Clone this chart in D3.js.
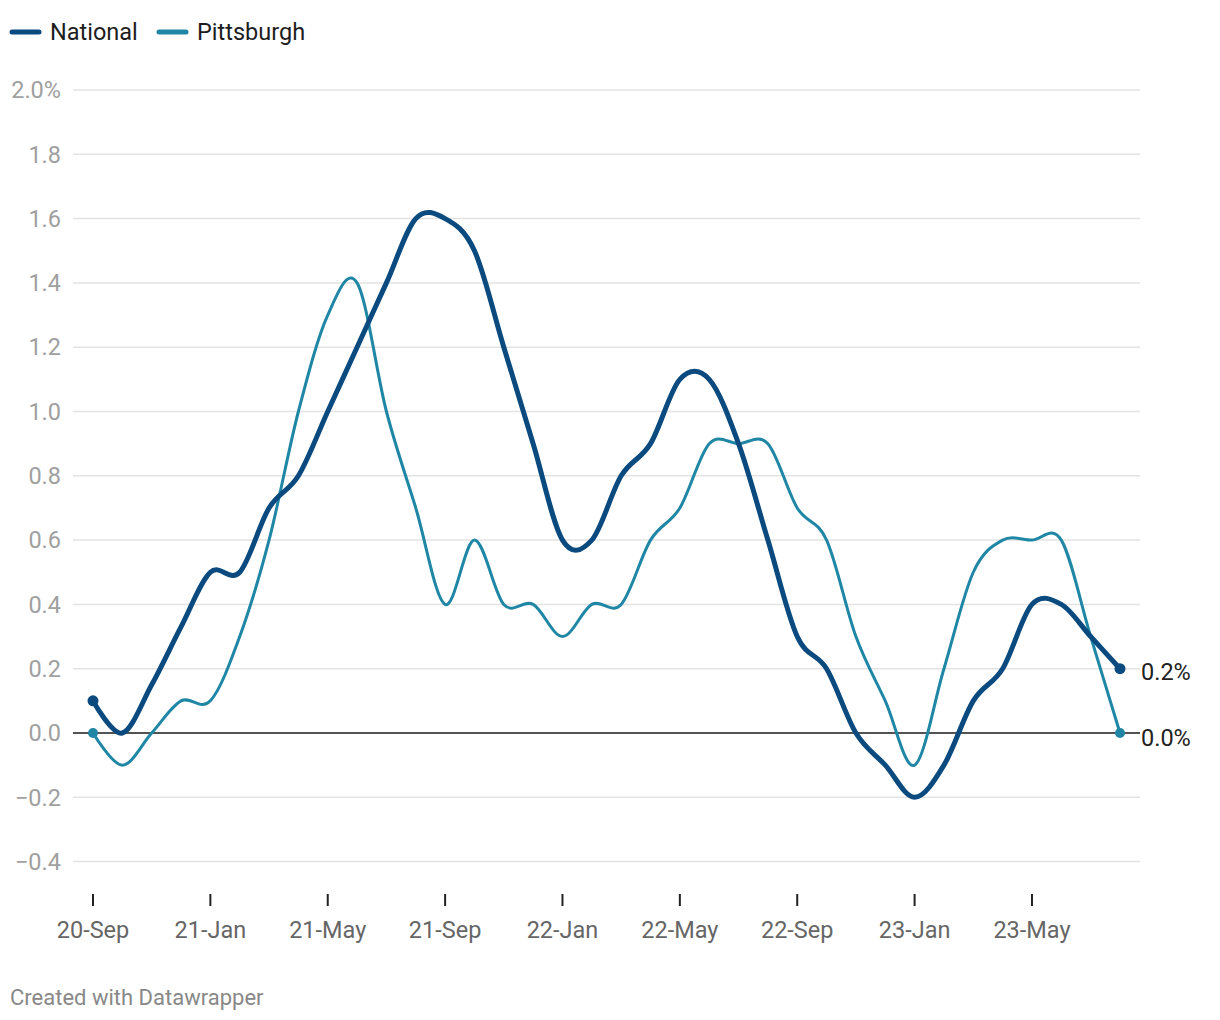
<!DOCTYPE html>
<html>
<head>
<meta charset="utf-8">
<script src="https://cdn.jsdelivr.net/npm/d3@7"></script>
<style>
  html, body { margin: 0; padding: 0; background: #fff; }
  svg { display: block; font-family: Roboto, "Noto Sans", sans-serif; }
</style>
</head>
<body>
<svg id="chart" width="1220" height="1020"></svg>
<script>
const months = ["20-Sep","20-Oct","20-Nov","20-Dec","21-Jan","21-Feb","21-Mar","21-Apr","21-May","21-Jun","21-Jul","21-Aug",
  "21-Sep","21-Oct","21-Nov","21-Dec","22-Jan","22-Feb","22-Mar","22-Apr","22-May","22-Jun","22-Jul","22-Aug",
  "22-Sep","22-Oct","22-Nov","22-Dec","23-Jan","23-Feb","23-Mar","23-Apr","23-May","23-Jun","23-Jul","23-Aug"];
const national = [0.1,0.0,0.15,0.33,0.5,0.5,0.7,0.8,1.0,1.2,1.4,1.6,
  1.6,1.5,1.2,0.9,0.6,0.6,0.8,0.9,1.1,1.1,0.9,0.6,
  0.3,0.2,0.0,-0.1,-0.2,-0.1,0.1,0.2,0.4,0.4,0.3,0.2];
const pittsburgh = [0.0,-0.1,0.0,0.1,0.1,0.3,0.6,1.0,1.3,1.4,1.0,0.7,
  0.4,0.6,0.4,0.4,0.3,0.4,0.4,0.6,0.7,0.9,0.9,0.9,
  0.7,0.6,0.3,0.1,-0.1,0.2,0.5,0.6,0.6,0.6,0.3,0.0];
const yTicks = [-0.4,-0.2,0.0,0.2,0.4,0.6,0.8,1.0,1.2,1.4,1.6,1.8,2.0];
const xTickLabels = ["20-Sep","21-Jan","21-May","21-Sep","22-Jan","22-May","22-Sep","23-Jan","23-May"];
const seriesNames = ["National","Pittsburgh"];
const colors = ["#0a4a7e","#1f87a5"];
const widths = [5, 3];

const svg = d3.select("#chart");
const x = d3.scaleLinear().domain([0, months.length - 1]).range([93, 1120]);
const y = d3.scaleLinear().domain([0, 2.0]).range([733, 90]);

// gridlines
const grid = svg.append("g");
grid.selectAll("line").data(yTicks.filter(d => d !== 0)).join("line")
  .attr("x1", 73).attr("x2", 1140)
  .attr("y1", d => y(d)).attr("y2", d => y(d))
  .attr("stroke", "#e3e3e3").attr("stroke-width", 1.5);

// y labels
const fmt = d => {
  const s = d3.format(".1f")(Math.abs(d));
  return (d < 0 ? "\u2212" : "") + s + (d === 2.0 ? "%" : "");
};
svg.append("g").selectAll("text").data(yTicks).join("text")
  .attr("x", 61).attr("y", d => y(d)).attr("dy", "0.35em")
  .attr("text-anchor", "end").attr("font-size", 23.5).attr("fill", "#a0a0a0")
  .text(fmt);

// zero line
svg.append("line").attr("x1", 73).attr("x2", 1140)
  .attr("y1", y(0)).attr("y2", y(0)).attr("stroke", "#1a1a1a").attr("stroke-width", 1.5);

// x axis ticks
const xt = svg.append("g");
const tickIdx = xTickLabels.map(l => months.indexOf(l));
xt.selectAll("line").data(tickIdx).join("line")
  .attr("x1", d => x(d)).attr("x2", d => x(d))
  .attr("y1", 894).attr("y2", 906).attr("stroke", "#222").attr("stroke-width", 2);
xt.selectAll("text").data(tickIdx).join("text")
  .attr("x", d => x(d)).attr("y", 930).attr("dy", "0.35em").attr("text-anchor", "middle")
  .attr("font-size", 23.5).attr("fill", "#666")
  .text(d => months[d]);

// lines
const line = d3.line().x((d, i) => x(i)).y(d => y(d)).curve(d3.curveCardinal.tension(0));
const allSeries = [national, pittsburgh];
[1, 0].forEach(k => {
  svg.append("path").datum(allSeries[k])
    .attr("d", line).attr("fill", "none")
    .attr("stroke", colors[k]).attr("stroke-width", widths[k])
    .attr("stroke-linejoin", "round").attr("stroke-linecap", "round");
  const s = allSeries[k];
  svg.append("g").selectAll("circle").data([0, s.length - 1]).join("circle")
    .attr("cx", i => x(i)).attr("cy", i => y(s[i])).attr("r", k === 0 ? 5.5 : 5)
    .attr("fill", colors[k]);
});

// end labels
const lastN = national[national.length - 1];
const lastP = pittsburgh[pittsburgh.length - 1];
svg.append("text").attr("x", 1141).attr("y", y(lastN) + 3).attr("dy", "0.35em")
  .attr("font-size", 23.5).attr("fill", "#222").text(d3.format(".1f")(lastN) + "%");
svg.append("text").attr("x", 1141).attr("y", y(lastP) + 5).attr("dy", "0.35em")
  .attr("font-size", 23.5).attr("fill", "#222").text(d3.format(".1f")(lastP) + "%");

// legend
const legendX = [10, 157];
const lg = svg.append("g");
seriesNames.forEach((n, k) => {
  lg.append("line").attr("x1", legendX[k] + 2).attr("x2", legendX[k] + 29)
    .attr("y1", 32).attr("y2", 32).attr("stroke", colors[k])
    .attr("stroke-width", 5).attr("stroke-linecap", "round");
  lg.append("text").attr("x", legendX[k] + 40).attr("y", 32).attr("dy", "0.35em")
    .attr("font-size", 23.5).attr("fill", "#1d1d1d").text(n);
});

// footer
svg.append("text").attr("x", 10).attr("y", 997).attr("dy", "0.35em").attr("font-size", 22)
  .attr("fill", "#888").text("Created with Datawrapper");
</script>
</body>
</html>
